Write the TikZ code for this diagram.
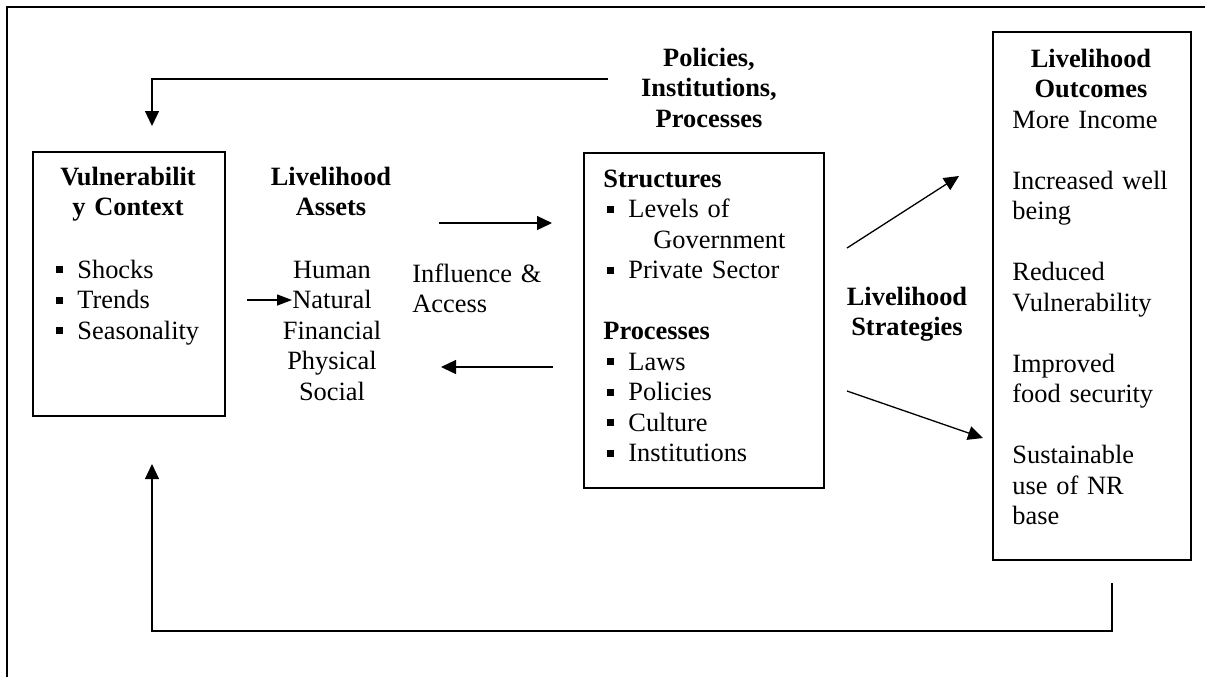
\documentclass[tikz,border=0pt]{standalone}
\usepackage{fontspec}
\setmainfont{Liberation Serif}
\usetikzlibrary{arrows.meta,positioning}

% square bullet used in the lists
\newcommand{\sqb}{\makebox[10.5pt][l]{\rule[2.5pt]{3.5pt}{3.5pt}}}

\begin{document}
\begin{tikzpicture}[x=0.5pt,y=-0.5pt,
  frame/.style={draw,rectangle,line width=0.75pt,anchor=north west,inner sep=0pt},
  txt/.style={inner sep=0pt,font=\fontsize{13.2}{15.25}\selectfont},
  title/.style={txt,font=\fontsize{13.2}{15.25}\selectfont\bfseries,text width=#1,align=center,anchor=base},
  title/.default=90pt,
  body/.style={txt,text width=#1,align=left,anchor=base west},
  body/.default=90pt,
  arr/.style={-{Triangle[length=7.5pt,width=7pt]},line width=0.65pt},
  smallarr/.style={-{Triangle[length=7.5pt,width=5.5pt]},line width=0.65pt}
]
\useasboundingbox (0,0) rectangle (1205,677);

% outer frame (top and left edges)
\draw[line width=0.65pt] (7,677) -- (7,7) -- (1205,7);

% Boxes
\node[frame,minimum width=96pt,minimum height=132pt] (vuln) at (32,151) {};
\node[frame,minimum width=120pt,minimum height=167.5pt] (pip) at (583,152) {};
\node[frame,minimum width=99pt,minimum height=264pt] (outc) at (992,31) {};

% Vulnerability context
\node[title] (vulnTitle) at (128,185) {Vulnerabilit\\y Context};
\node[body] (vulnList) at (56,278) {\sqb Shocks\\\sqb Trends\\\sqb Seasonality};

% Livelihood assets
\node[title] (assetTitle) at (331,185) {Livelihood\\Assets};
\node[txt,text width=70pt,align=center,anchor=base] (assetList) at (332,278)
  {Human\\Natural\\Financial\\Physical\\Social};
\node[body] (influence) at (412,282) {Influence \&\\Access};

% Policies, institutions, processes
\node[title] (pipTitle) at (709,66) {Policies,\\Institutions,\\Processes};
\node[body=110pt] (pipList) at (603,187) {\textbf{Structures}\\
  \hspace*{2pt}\sqb Levels of\\
  \hspace*{25pt}Government\\
  \hspace*{2pt}\sqb Private Sector\\[15.25pt]
  \textbf{Processes}\\
  \hspace*{2pt}\sqb Laws\\
  \hspace*{2pt}\sqb Policies\\
  \hspace*{2pt}\sqb Culture\\
  \hspace*{2pt}\sqb Institutions};

% Livelihood strategies
\node[title] (strat) at (907,305) {Livelihood\\Strategies};

% Livelihood outcomes
\node[title] (outTitle) at (1091,67) {Livelihood\\Outcomes};
\node[body] (outList) at (1012,128) {More Income\\[15.25pt]
  Increased well\\being\\[15.25pt]
  Reduced\\Vulnerability\\[15.25pt]
  Improved\\food security\\[15.25pt]
  Sustainable\\use of NR\\base};

% arrow end points
\coordinate (pipTail) at (608,79);
\coordinate (vulnIn) at (152,126);
\coordinate (assetIn0) at (247,300);
\coordinate (assetIn1) at (292,300);
\coordinate (accR0) at (439,223);
\coordinate (accR1) at (552,223);
\coordinate (accL0) at (553,367);
\coordinate (accL1) at (441,367);
\coordinate (upA) at (847,248);
\coordinate (upB) at (959,176);
\coordinate (dnA) at (847,391);
\coordinate (dnB) at (983,438);
\coordinate (outTail) at (1112,583);
\coordinate (loopTurn) at (1112,631);
\coordinate (vulnBack) at (152,464);

% Arrows
\draw[arr] (pipTail) -| (vulnIn);
\draw[smallarr] (assetIn0) -- (assetIn1);
\draw[arr] (accR0) -- (accR1);
\draw[arr] (accL0) -- (accL1);
\draw[arr] (upA) -- (upB);
\draw[arr] (dnA) -- (dnB);
\draw[arr] (outTail) -- (loopTurn) -| (vulnBack);

\end{tikzpicture}
\end{document}
